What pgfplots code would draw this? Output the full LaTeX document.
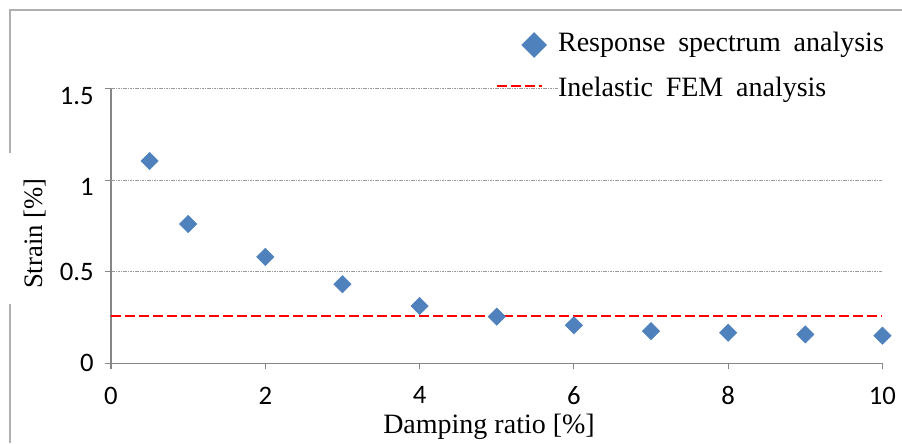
\documentclass[border=0pt]{standalone}
\usepackage{pgfplots}
\pgfplotsset{compat=1.18}
\usepackage{fontspec}
\setmainfont{Liberation Serif}
\newfontfamily\tickfont{Carlito}
\definecolor{serblue}{HTML}{4F81BD}
\definecolor{axisgray}{HTML}{868686}
\definecolor{gridgray}{HTML}{9A9A9A}
\definecolor{framegray}{HTML}{B0B0B0}
\begin{document}
\begin{tikzpicture}
\useasboundingbox (-83.25pt,-59.8pt) rectangle (593.25pt,272.5pt);
\begin{axis}[
  at={(0pt,0pt)}, anchor=south west,
  scale only axis, width=578.6pt, height=206pt,
  xmin=0, xmax=10, ymin=0, ymax=1.5,
  axis x line*=bottom, axis y line*=left,
  axis line style={draw=axisgray, line width=0.9pt, -},
  xtick={0,2,4,6,8,10}, ytick={0,0.5},
  extra y ticks={1,1.5},
  extra y tick style={yticklabel style={yshift=-5.25pt}, grid=major},
  tick align=outside, major tick length=4.5pt,
  tick style={draw=axisgray, line width=0.9pt},
  minor tick num=0,
  ymajorgrids, grid style={draw=gridgray, line width=0.6pt, dash pattern=on 1.2pt off 0.6pt},
  clip=false,
  /pgf/number format/assume math mode=true,
  ticklabel style={font=\tickfont\fontsize{20}{24}\selectfont},
  xticklabel style={yshift=-9.5pt},
  yticklabel style={xshift=-5pt},
  xlabel={Damping ratio [\%]},
  xlabel style={font=\fontsize{21}{24}\selectfont, at={([yshift=-52.5pt]axis description cs:0.49,0)}, anchor=base},
  ylabel={Strain [\%]},
  ylabel style={font=\fontsize{20}{24}\selectfont, at={([xshift=-51pt]axis description cs:0,0.472)}, anchor=base},
  legend style={at={(rel axis cs:0.498,1.077)}, anchor=west, draw=none, fill=none,
    font=\fontsize{21}{24}\selectfont, inner sep=0pt, row sep=13.75pt,
    nodes={inner sep=0pt, text height=15pt, text depth=5pt, fill=white, text width=252pt}},
  legend cell align=left,
]
\addplot[only marks, color=serblue, mark=square*, mark size=4.6pt,
  mark options={rotate=45, fill=serblue, draw=none},
  legend image code/.code={\path[draw=none, fill=none] (0pt,0pt) -- (46pt,0pt);
    \path[draw=none, mark=square*, mark size=6.6pt, mark options={rotate=45, fill=serblue, draw=none}] plot coordinates {(28pt,0pt)};}]
  coordinates {(0.5,1.105) (1,0.761) (2,0.581) (3,0.432) (4,0.313) (5,0.255) (6,0.208) (7,0.176) (8,0.167) (9,0.158) (10,0.151)};
\addlegendentry{Response\hspace{2.6pt} spectrum\hspace{2.6pt} analysis}
\addplot[no marks, draw=red, line width=1.8pt, dash pattern=on 7.5pt off 3pt,
  legend image code/.code={\path[draw=none, fill=none] (0pt,0pt) -- (46pt,0pt);
    \draw[red, line width=2pt, dash pattern=on 7.5pt off 3pt] (0pt,3pt) -- (34pt,3pt);}]
  coordinates {(0,0.258) (10,0.258)};
\addlegendentry{Inelastic\hspace{2.6pt} FEM\hspace{2.6pt} analysis}
\end{axis}
\draw[framegray, line width=1.5pt] (-75.75pt,-59.8pt) -- (-75.75pt,44.5pt);
\draw[framegray, line width=1.5pt] (-75.75pt,157.7pt) -- (-75.75pt,265pt) -- (593.25pt,265pt);
\end{tikzpicture}
\end{document}
